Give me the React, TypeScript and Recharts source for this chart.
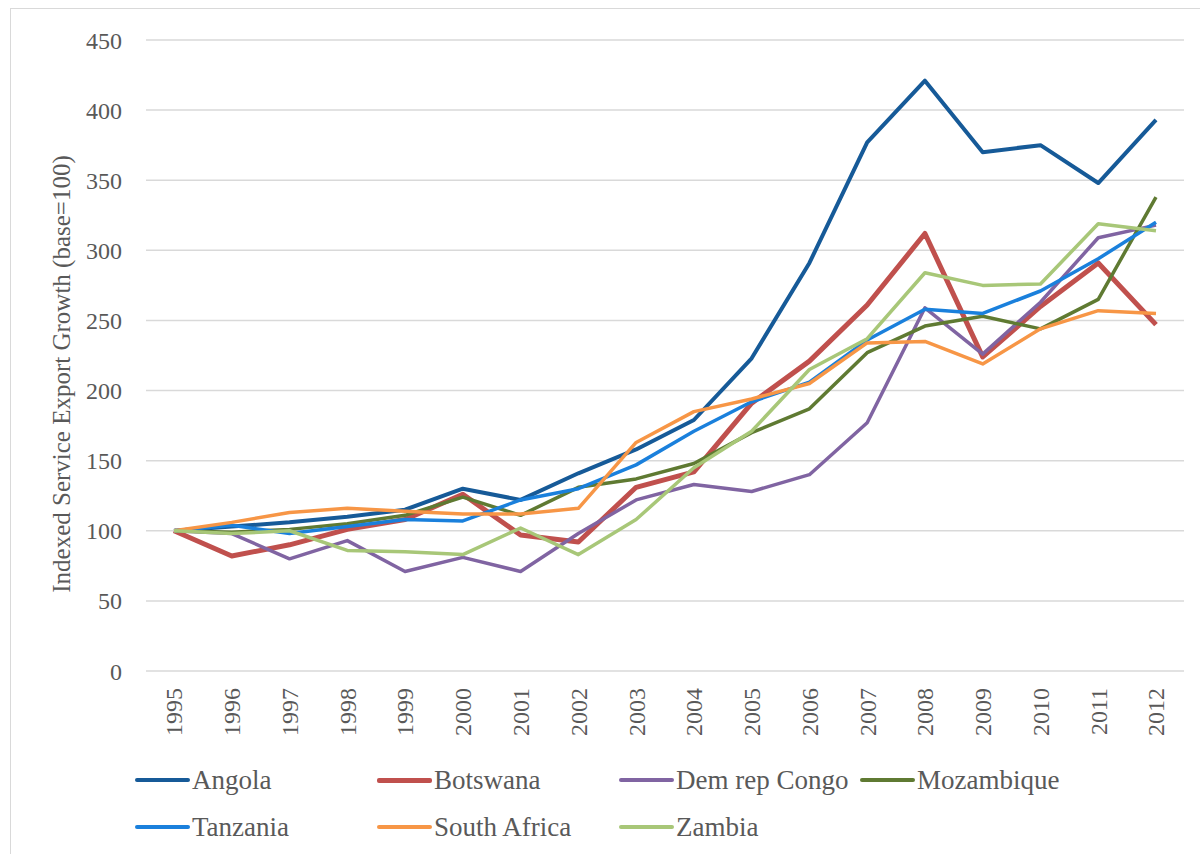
import React from 'react';
import { LineChart, Line, XAxis, YAxis, CartesianGrid } from 'recharts';

const years = ['1995', '1996', '1997', '1998', '1999', '2000', '2001', '2002', '2003', '2004', '2005', '2006', '2007', '2008', '2009', '2010', '2011', '2012'];

const angola = [100, 103, 106, 110, 115, 130, 122, 141, 158, 179, 223, 291, 377, 421, 370, 375, 348, 393];
const botswana = [100, 82, 90, 101, 108, 126, 97, 92, 131, 142, 191, 221, 261, 312, 224, 260, 291, 247];
const congo = [100, 98, 80, 93, 71, 81, 71, 98, 122, 133, 128, 140, 177, 259, 226, 263, 309, 318];
const mozambique = [100, 99, 101, 105, 111, 124, 111, 131, 137, 148, 170, 187, 227, 246, 253, 244, 265, 338];
const tanzania = [100, 104, 98, 103, 108, 107, 122, 130, 147, 171, 192, 206, 236, 258, 255, 271, 294, 320];
const southAfrica = [100, 106, 113, 116, 114, 112, 112, 116, 163, 185, 194, 205, 234, 235, 219, 244, 257, 255];
const zambia = [100, 98, 100, 86, 85, 83, 102, 83, 108, 145, 171, 215, 237, 284, 275, 276, 319, 314];

const yTicks = [0, 50, 100, 150, 200, 250, 300, 350, 400, 450];

const series = [
  { key: 'Angola', values: angola, color: '#165a98', width: 4 },
  { key: 'Botswana', values: botswana, color: '#c0504d', width: 5 },
  { key: 'Dem rep Congo', values: congo, color: '#8064a2', width: 3.5 },
  { key: 'Mozambique', values: mozambique, color: '#5f7a32', width: 3.5 },
  { key: 'Tanzania', values: tanzania, color: '#1a80dc', width: 3.5 },
  { key: 'South Africa', values: southAfrica, color: '#f79646', width: 3.5 },
  { key: 'Zambia', values: zambia, color: '#a8c778', width: 3.5 },
];

const data = years.map((year, i) => {
  const row: { [k: string]: any } = { year };
  series.forEach(s => { row[s.key] = s.values[i]; });
  return row;
});

const FONT = '"Liberation Serif", "Times New Roman", serif';
const TEXT = '#595959';

const YearTick = (props: any) => {
  const { x, y, payload } = props;
  return (
    <g transform={`translate(${x},${y})`}>
      <text transform="rotate(-90)" textAnchor="end" dy="0.35em" fill={TEXT} fontSize={24} fontFamily={FONT}>
        {payload.value}
      </text>
    </g>
  );
};

// legend columns, Excel style
const legendCols = [135, 377, 619, 860];

export default function App() {
  return (
    <div style={{ position: 'absolute', left: 0, top: 0, width: 1200, height: 854, background: '#fff', overflow: 'hidden', fontFamily: FONT }}>
      <div style={{ position: 'absolute', left: 10, top: 8, width: 1200, height: 860, border: '1px solid #d9d9d9' }} />
      <div style={{ position: 'absolute', left: 0, top: 0 }}>
        <LineChart width={1200} height={854} data={data} margin={{ top: 40, right: 16, left: 16, bottom: 103 }}>
          <CartesianGrid vertical={false} stroke="#d9d9d9" strokeWidth={1.5} />
          <XAxis
            dataKey="year"
            interval={0}
            height={80}
            axisLine={false}
            tickLine={false}
            tickMargin={11}
            padding={{ left: 28, right: 28 }}
            tick={<YearTick />}
          />
          <YAxis
            domain={[0, 450]}
            ticks={yTicks}
            width={130}
            axisLine={false}
            tickLine={false}
            tickMargin={18}
            tick={{ fill: TEXT, fontSize: 24, fontFamily: FONT }}
            label={{
              content: () => (
                <text x={61} y={374} transform="rotate(-90 61 374)" textAnchor="middle" dominantBaseline="central" fill={TEXT} fontSize={25} fontFamily={FONT}>
                  Indexed Service Export Growth (base=100)
                </text>
              ),
            }}
          />
          {series.map(s => (
            <Line
              key={s.key}
              type="linear"
              dataKey={s.key}
              stroke={s.color}
              strokeWidth={s.width}
              strokeLinejoin="round"
              dot={false}
              activeDot={false}
              isAnimationActive={false}
            />
          ))}
        </LineChart>
      </div>
      {series.map((s, i) => (
        <div
          key={s.key}
          style={{
            position: 'absolute',
            left: legendCols[i % 4],
            top: i < 4 ? 764 : 811,
            height: 32,
            display: 'flex',
            alignItems: 'center',
            whiteSpace: 'nowrap',
          }}
        >
          <div style={{ width: 55, height: s.width, background: s.color, borderRadius: 2 }} />
          <span style={{ marginLeft: 2, fontSize: 27, color: TEXT, fontFamily: FONT }}>{s.key}</span>
        </div>
      ))}
    </div>
  );
}
